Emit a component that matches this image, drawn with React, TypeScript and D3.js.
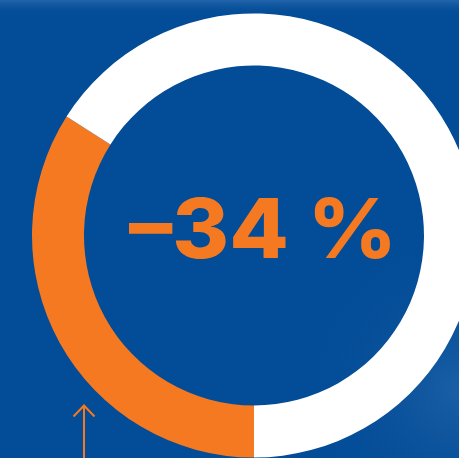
import React from "react";
import * as d3 from "d3";

const categories = ["Reduction", "Remaining"];
const values = [34, 66];
const label = "–34 %";
const colors = ["#F47920", "#FFFFFF"];

const W = 459;
const H = 458;

export default function App() {
  const cx = 254;
  const cy = 235.5;
  const outerR = 222;
  const innerR = 170;

  const pie = d3
    .pie<number>()
    .sort(null)
    .startAngle(Math.PI)
    .endAngle(3 * Math.PI)
    .value((d) => d);
  const arcs = pie(values);
  const arcGen = d3.arc<d3.PieArcDatum<number>>().innerRadius(innerR).outerRadius(outerR);

  return (
    <svg
      width={W}
      height={H}
      viewBox={`0 0 ${W} ${H}`}
      style={{ position: "absolute", left: 0, top: 0, display: "block" }}
    >
      <defs>
        <linearGradient id="topband" x1="0" y1="0" x2="0" y2="1">
          <stop offset="0" stopColor="#2f6fb3" stopOpacity="0.7" />
          <stop offset="1" stopColor="#034C97" stopOpacity="0" />
        </linearGradient>
        <radialGradient id="rightglow" cx="1" cy="0.85" r="0.35">
          <stop offset="0" stopColor="#2a6cb0" stopOpacity="0.6" />
          <stop offset="1" stopColor="#034C97" stopOpacity="0" />
        </radialGradient>
      </defs>
      <rect x={0} y={0} width={W} height={H} fill="#034C97" />
      <rect x={0} y={0} width={W} height={16} fill="url(#topband)" />
      <rect x={0} y={0} width={W} height={H} fill="url(#rightglow)" />
      <g transform={`translate(${cx},${cy})`}>
        {arcs.map((a, i) => (
          <path key={categories[i]} d={arcGen(a) || ""} fill={colors[i]} />
        ))}
        <text
          x={-125}
          y={22}
          fill="#F47920"
          fontFamily="Inter, 'Open Sans', sans-serif"
          fontWeight={800}
          fontSize={82}
          textLength={268}
          lengthAdjust="spacingAndGlyphs"
        >
          {label}
        </text>
      </g>
      <g stroke="#F47920" strokeWidth={2} fill="none">
        <line x1={84} y1={405} x2={84} y2={H} />
        <polyline points="73.5,416.5 84,405.5 94.5,416.5" />
      </g>
    </svg>
  );
}
